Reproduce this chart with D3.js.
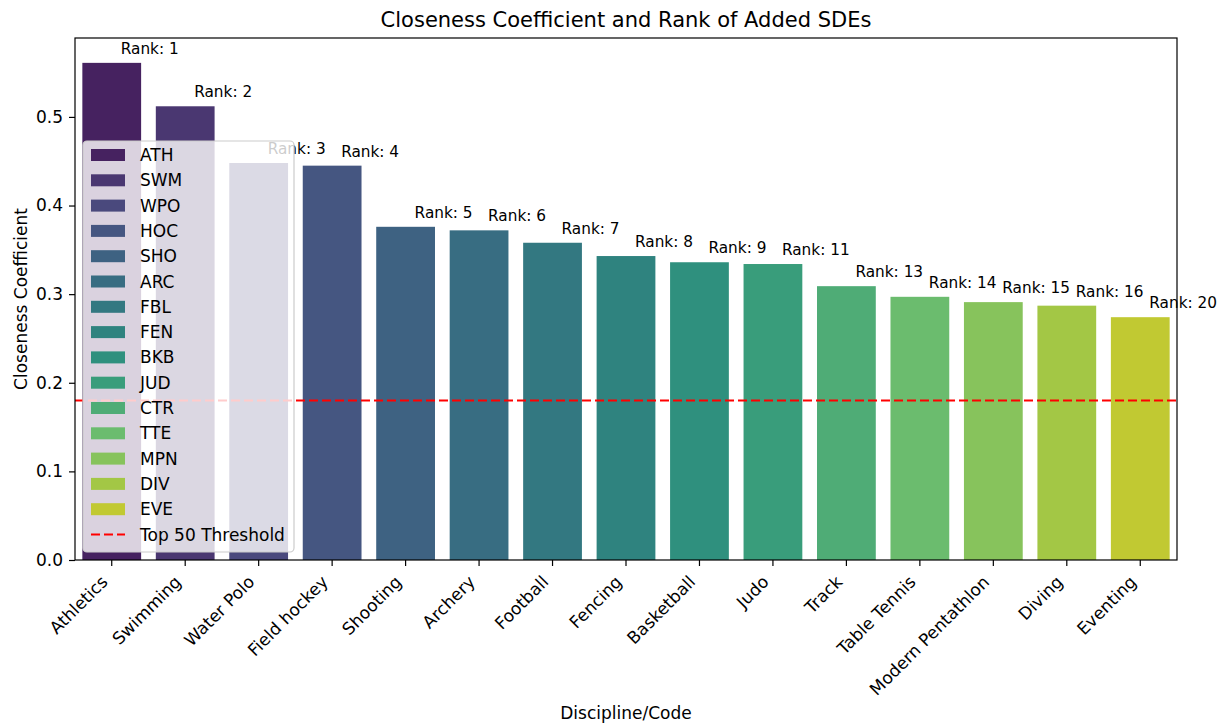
<!DOCTYPE html>
<html>
<head>
<meta charset="utf-8">
<script src="https://cdn.jsdelivr.net/npm/d3@7"></script>
<style>
  body { margin: 0; background: #fff; }
  svg { font-family: "DejaVu Sans", sans-serif; }
</style>
</head>
<body>
<svg id="chart" width="1225" height="725"></svg>
<script>
// Disciplines, their codes, closeness coefficients and ranks
const disciplines = ["Athletics", "Swimming", "Water Polo", "Field hockey", "Shooting", "Archery",
  "Football", "Fencing", "Basketball", "Judo", "Track", "Table Tennis", "Modern Pentathlon", "Diving", "Eventing"];
const codes = ["ATH", "SWM", "WPO", "HOC", "SHO", "ARC", "FBL", "FEN", "BKB", "JUD", "CTR", "TTE", "MPN", "DIV", "EVE"];
const closeness = [0.561, 0.512, 0.448, 0.445, 0.376, 0.372, 0.358, 0.343, 0.336, 0.334, 0.309, 0.297, 0.291, 0.287, 0.274];
const ranks = [1, 2, 3, 4, 5, 6, 7, 8, 9, 11, 13, 14, 15, 16, 20];
const yTicks = [0.0, 0.1, 0.2, 0.3, 0.4, 0.5];
const threshold = 0.18;
const thresholdLabel = "Top 50 Threshold";

const svg = d3.select("#chart");
const margin = { left: 75, right: 48, top: 38, bottom: 165 };
const W = 1225, H = 725;
const x0 = margin.left, x1 = W - margin.right, y0 = H - margin.bottom, y1 = margin.top;

const x = d3.scaleBand().domain(disciplines).range([x0, x1]).paddingInner(0.2).paddingOuter(0.1);
const y = d3.scaleLinear().domain([0, d3.max(closeness) * 1.05]).range([y0, y1]);

// viridis palette, sampled inside the ends, then desaturated
const n = disciplines.length;
const colors = d3.range(n).map(i => {
  const c = d3.hsl(d3.interpolateViridis((i + 1) / (n + 1)));
  c.s *= 0.75;
  return c.formatHex();
});

const data = disciplines.map((d, i) => ({ name: d, code: codes[i], v: closeness[i], rank: ranks[i], color: colors[i] }));

// bars
svg.append("g").selectAll("rect").data(data).join("rect")
  .attr("x", d => x(d.name))
  .attr("width", x.bandwidth())
  .attr("y", d => y(d.v))
  .attr("height", d => y0 - y(d.v))
  .attr("fill", d => d.color);

// rank labels
svg.append("g").selectAll("text").data(data).join("text")
  .attr("x", d => x(d.name) + x.bandwidth() / 2 + 9)
  .attr("y", d => y(d.v + 0.01))
  .attr("font-size", 15.3)
  .attr("fill", "#000")
  .text(d => "Rank: " + d.rank);

// threshold line
svg.append("line")
  .attr("x1", x0).attr("x2", x1)
  .attr("y1", y(threshold)).attr("y2", y(threshold))
  .attr("stroke", "#ff0000").attr("stroke-width", 2.2)
  .attr("stroke-dasharray", "9,4");

// axes
const yAxis = svg.append("g").attr("transform", `translate(${x0},0)`)
  .call(d3.axisLeft(y).tickValues(yTicks).tickFormat(d3.format(".1f")).tickSize(6).tickPadding(6));
yAxis.select(".domain").remove();
yAxis.selectAll("text").attr("font-size", 17).attr("fill", "#000").attr("font-family", "DejaVu Sans");
yAxis.selectAll("line").attr("stroke", "#000").attr("stroke-width", 1.2);

const xAxis = svg.append("g").attr("transform", `translate(0,${y0})`)
  .call(d3.axisBottom(x).tickSize(6).tickPadding(4));
xAxis.select(".domain").remove();
xAxis.selectAll("line").attr("stroke", "#000").attr("stroke-width", 1.2);
xAxis.selectAll("text")
  .attr("font-size", 17).attr("fill", "#000").attr("font-family", "DejaVu Sans")
  .attr("text-anchor", "end")
  .attr("dy", null).attr("y", null)
  .attr("transform", "translate(-3,23) rotate(-45)");

// frame
svg.append("rect")
  .attr("x", x0).attr("y", y1).attr("width", x1 - x0).attr("height", y0 - y1)
  .attr("fill", "none").attr("stroke", "#000").attr("stroke-width", 1.2);

// titles
svg.append("text").attr("x", (x0 + x1) / 2).attr("y", 27).attr("text-anchor", "middle")
  .attr("font-size", 21).text("Closeness Coefficient and Rank of Added SDEs");
svg.append("text").attr("x", (x0 + x1) / 2).attr("y", 719).attr("text-anchor", "middle")
  .attr("font-size", 17).text("Discipline/Code");
svg.append("text").attr("transform", `translate(27,${(y0 + y1) / 2}) rotate(-90)`)
  .attr("text-anchor", "middle").attr("font-size", 17).text("Closeness Coefficient");

// legend
const lg = svg.append("g").attr("transform", "translate(83,141)");
lg.append("rect").attr("width", 211).attr("height", 411).attr("rx", 4)
  .attr("fill", "#fff").attr("fill-opacity", 0.8)
  .attr("stroke", "#cccccc").attr("stroke-width", 1.2);
const rowH = 25.3;
const items = lg.selectAll("g.item").data(data).join("g").attr("class", "item")
  .attr("transform", (d, i) => `translate(8,${14 + i * rowH})`);
items.append("rect").attr("x", 0).attr("y", -6).attr("width", 34).attr("height", 12).attr("fill", d => d.color);
items.append("text").attr("x", 49).attr("y", 6).attr("font-size", 17).text(d => d.code);
const th = lg.append("g").attr("transform", `translate(8,${14 + n * rowH})`);
th.append("line").attr("x1", 0).attr("x2", 34).attr("stroke", "#ff0000")
  .attr("stroke-width", 2.2).attr("stroke-dasharray", "9,4");
th.append("text").attr("x", 49).attr("y", 6).attr("font-size", 17).text(thresholdLabel);
</script>
</body>
</html>
